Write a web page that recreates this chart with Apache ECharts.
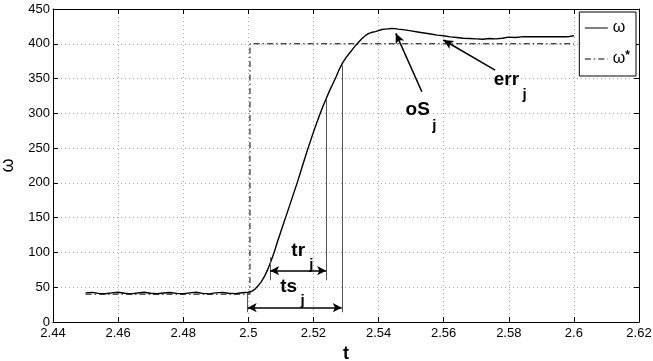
<!DOCTYPE html>
<html>
<head>
<meta charset="utf-8">
<script src="https://cdn.jsdelivr.net/npm/echarts@6/dist/echarts.min.js"></script>
<style>
  html, body { margin: 0; padding: 0; background: #fff; }
  #chart { width: 653px; height: 361px; }
</style>
</head>
<body>
<div id="chart"></div>
<script>
// Speed response ω(t) and its reference ω*(t) around a step at t = 2.5 s
const omegaT = [
  2.450, 2.452, 2.454, 2.456, 2.458, 2.460, 2.462, 2.464, 2.466, 2.468,
  2.470, 2.472, 2.474, 2.476, 2.478, 2.480, 2.482, 2.484, 2.486, 2.488,
  2.490, 2.492, 2.494, 2.496, 2.498, 2.500,
  2.501, 2.502, 2.503, 2.504, 2.505, 2.506, 2.507, 2.508, 2.509, 2.510,
  2.511, 2.512, 2.513, 2.514, 2.515, 2.516, 2.517, 2.518, 2.519, 2.520,
  2.521, 2.522, 2.523, 2.524, 2.525, 2.526, 2.527, 2.528, 2.529, 2.530,
  2.531, 2.532, 2.533, 2.534, 2.535, 2.536, 2.537, 2.538, 2.539, 2.540,
  2.541, 2.542, 2.543, 2.544, 2.545, 2.546, 2.548, 2.550, 2.552, 2.554,
  2.556, 2.558, 2.560, 2.562, 2.564, 2.566, 2.568, 2.570, 2.572, 2.574,
  2.576, 2.578, 2.580, 2.582, 2.584, 2.586, 2.588, 2.590, 2.592, 2.594,
  2.596, 2.598, 2.600
];
const omega = [
  41.8, 42.6, 41.2, 40.6, 41.9, 42.7, 41.3, 40.5, 41.6, 42.8,
  41.4, 40.7, 41.7, 42.5, 41.1, 40.6, 41.8, 42.7, 41.2, 40.4,
  41.9, 42.6, 41.3, 40.8, 42.0, 42.8,
  44, 47, 52, 58, 66, 76, 88, 101, 116, 130,
  144, 158, 172, 186, 200, 215, 230, 245, 259, 273,
  286, 299, 311, 322, 333, 343, 353, 364, 373, 380,
  386, 392, 398, 403, 408, 412, 415, 416.5, 417.5, 419,
  420.5, 421, 421.5, 422, 421.8, 421, 420, 418.5, 417, 415.5,
  414, 412.5, 411.5, 410, 409, 408, 407.5, 407, 406.5, 407.5,
  407, 408, 409.5, 409, 410, 410, 410, 410, 410, 410,
  410, 410, 411.5
];
const refT = [2.45, 2.5005, 2.5005, 2.60];
const refOmega = [40, 40, 400, 400];

// Axis ticks
const xMin = 2.44, xMax = 2.62, xStep = 0.02;
const yMin = 0, yMax = 450, yStep = 50;

// Timing annotations: rise time tr_j and settling time ts_j
const riseStart = 2.5067, riseEnd = 2.5239, settleStart = 2.4998, settleEnd = 2.5287;
const riseArrowLevel = 73.8, settleArrowLevel = 20.6;
// vertical drop lines: [t, from, to]
const dropLines = [
  [riseStart, 60, 93],
  [riseEnd, 60, 321],
  [settleStart, 14, 41.7],
  [settleEnd, 14, 369]
];
// pointer arrows: [tailT, tailV, headT, headV]
const pointers = [
  [2.5533, 331, 2.5453, 415],   // overshoot
  [2.5758, 362, 2.5599, 405.4]  // steady-state error
];
// labels: [text, subscript, t, v, subT, subV]
const labels = [
  ['tr', 'j', 2.5132, 102.8, 2.5187, 82.0],
  ['ts', 'j', 2.5098, 50.8, 2.5160, 30.0],
  ['oS', 'j', 2.5483, 304.8, 2.5565, 281.5],
  ['err', 'j', 2.5754, 347.9, 2.5842, 327.0]
];

const FONT = '"Liberation Sans", Arial, Helvetica, sans-serif';

const omegaData = omegaT.map((t, i) => [t, omega[i]]);
const refData = refT.map((t, i) => [t, refOmega[i]]);

const annotLines = [];
dropLines.forEach(d => {
  annotLines.push([
    { coord: [d[0], d[1]], symbol: 'none' },
    { coord: [d[0], d[2]], symbol: 'none', lineStyle: { color: '#555', width: 1 } }
  ]);
});
[[riseStart, riseEnd, riseArrowLevel], [settleStart, settleEnd, settleArrowLevel]].forEach(a => {
  annotLines.push([
    { coord: [a[0], a[2]], symbol: 'arrow', symbolSize: [7, 9] },
    { coord: [a[1], a[2]], symbol: 'arrow', symbolSize: [7, 9], lineStyle: { color: '#000', width: 1.5 } }
  ]);
});
pointers.forEach(p => {
  annotLines.push([
    { coord: [p[0], p[1]], symbol: 'none' },
    { coord: [p[2], p[3]], symbol: 'arrow', symbolSize: [7, 10], lineStyle: { color: '#000', width: 1.5 } }
  ]);
});

const chart = echarts.init(document.getElementById('chart'), null, { renderer: 'canvas' });

const fmt = v => String(+v.toFixed(2));
const tickStyle = { show: true, inside: true, length: 5, lineStyle: { color: '#000' } };
const lineAxis = { show: true, onZero: false, lineStyle: { color: '#000', width: 1 } };
const gridLine = { show: true, lineStyle: { color: '#aaa', type: [1, 3], width: 1 } };

chart.setOption({
  animation: false,
  backgroundColor: '#fff',
  textStyle: { fontFamily: FONT },
  grid: { left: 53, right: 14, top: 9, bottom: 39, containLabel: false, outerBoundsMode: 'none' },
  legend: {
    orient: 'vertical',
    right: 17, top: 12,
    padding: [8, 6, 9, 5],
    itemGap: 14,
    itemWidth: 23, itemHeight: 14,
    borderColor: '#000', borderWidth: 1,
    backgroundColor: '#fff',
    itemStyle: { opacity: 0 },
    lineStyle: { width: 1 },
    data: ['ω', 'ω*'],
    formatter: name => name === 'ω*' ? '{a|ω}{s|*}' : '{a|ω}',
    textStyle: {
      fontFamily: FONT, color: '#000',
      rich: {
        a: { fontSize: 16, fontFamily: FONT, color: '#000', lineHeight: 18 },
        s: { fontSize: 12, fontFamily: FONT, color: '#000', fontWeight: 'bold', verticalAlign: 'top', lineHeight: 18 }
      }
    }
  },
  xAxis: [
    {
      type: 'value', min: xMin, max: xMax, interval: xStep,
      name: 't', nameLocation: 'middle', nameGap: 21,
      nameTextStyle: { fontSize: 18, fontWeight: 'bold', color: '#000', fontFamily: FONT },
      axisLine: lineAxis, axisTick: tickStyle,
      axisLabel: { color: '#000', fontSize: 13, margin: 5, formatter: fmt, fontFamily: FONT },
      splitLine: gridLine
    },
    {
      type: 'value', min: xMin, max: xMax, interval: xStep, position: 'top',
      axisLine: lineAxis, axisTick: tickStyle, axisLabel: { show: false }, splitLine: { show: false }
    }
  ],
  yAxis: [
    {
      type: 'value', min: yMin, max: yMax, interval: yStep,
      name: 'ω', nameLocation: 'middle', nameGap: 35, nameRotate: 90,
      nameTextStyle: { fontSize: 18, color: '#000', fontFamily: FONT },
      axisLine: lineAxis, axisTick: tickStyle,
      axisLabel: { color: '#000', fontSize: 13, margin: 3, fontFamily: FONT },
      splitLine: gridLine
    },
    {
      type: 'value', min: yMin, max: yMax, interval: yStep, position: 'right',
      axisLine: lineAxis, axisTick: tickStyle, axisLabel: { show: false }, splitLine: { show: false }
    }
  ],
  series: [
    {
      name: 'ω', type: 'line', data: omegaData, symbol: 'none', showSymbol: false,
      lineStyle: { color: '#000', width: 1.4 }, itemStyle: { color: '#000' }, z: 3
    },
    {
      name: 'ω*', type: 'line', data: refData, symbol: 'none', showSymbol: false,
      lineStyle: { color: '#000', width: 1, type: [6, 3, 1.5, 3] }, itemStyle: { color: '#000' }, z: 2
    },
    {
      name: 'annotations', type: 'line', data: [], symbol: 'none',
      markLine: {
        silent: true, animation: false,
        label: { show: false },
        lineStyle: { color: '#000', width: 1.5, type: 'solid' },
        emphasis: { disabled: true },
        data: annotLines
      },
      z: 4
    }
  ]
});

// Annotation labels placed at data positions
function placeLabels() {
  const els = [];
  labels.forEach(l => {
    const p = chart.convertToPixel({ gridIndex: 0 }, [l[2], l[3]]);
    const q = chart.convertToPixel({ gridIndex: 0 }, [l[4], l[5]]);
    els.push({
      type: 'text', x: p[0], y: p[1], z: 10,
      style: { text: l[0], fill: '#000', font: 'bold 19px ' + FONT, align: 'left', verticalAlign: 'middle' }
    });
    els.push({
      type: 'text', x: q[0], y: q[1], z: 10,
      style: { text: l[1], fill: '#000', font: 'bold 15px ' + FONT, align: 'left', verticalAlign: 'middle' }
    });
  });
  chart.setOption({ graphic: els });
}
placeLabels();
</script>
</body>
</html>
